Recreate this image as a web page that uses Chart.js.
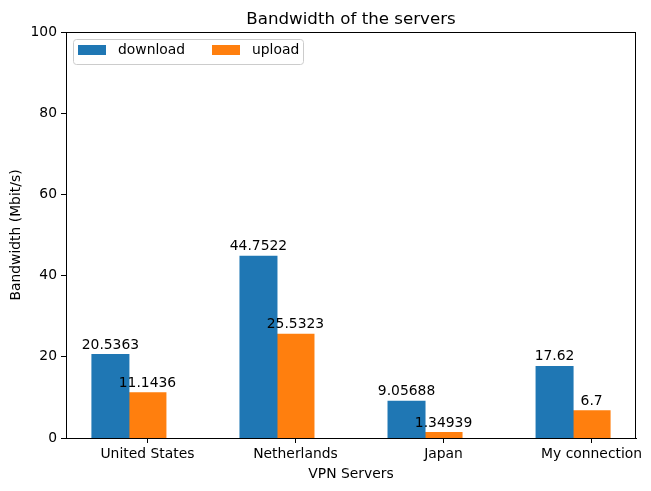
<!DOCTYPE html>
<html><head><meta charset="utf-8">
<script src="https://cdn.jsdelivr.net/npm/chart.js@4"></script>
<style>html,body{margin:0;padding:0;background:#fff}#wrap{width:651px;height:491px}</style>
</head><body><div id="wrap"><canvas id="c" width="651" height="491"></canvas></div>
<script>
const chartTitle = "Bandwidth of the servers";
const categories = ["United States", "Netherlands", "Japan", "My connection"];
const downloadValues = [20.5363, 44.7522, 9.05688, 17.62];
const uploadValues = [11.1436, 25.5323, 1.34939, 6.7];
const downloadLabels = ["20.5363", "44.7522", "9.05688", "17.62"];
const uploadLabels = ["11.1436", "25.5323", "1.34939", "6.7"];
const seriesNames = ["download", "upload"];
const yTicks = [0, 20, 40, 60, 80, 100];

const FONT = "'DejaVu Sans', sans-serif";
const FS = 13.89;
Chart.defaults.font.family = FONT;
Chart.defaults.font.size = FS;
Chart.defaults.color = '#000';

const valueLabels = {
  id: 'valueLabels',
  afterDatasetsDraw(chart) {
    const ctx = chart.ctx;
    ctx.save();
    ctx.font = FS + "px " + FONT;
    ctx.fillStyle = '#000';
    ctx.textAlign = 'center';
    ctx.textBaseline = 'alphabetic';
    chart.data.datasets.forEach((ds, di) => {
      const meta = chart.getDatasetMeta(di);
      meta.data.forEach((bar, i) => {
        ctx.fillText(ds.valueText[i], bar.x, bar.y - 6);
      });
    });
    ctx.restore();
  }
};

const frameAndLegend = {
  id: 'frameAndLegend',
  afterDraw(chart) {
    const ctx = chart.ctx;
    const a = chart.chartArea;
    ctx.save();
    ctx.strokeStyle = '#000';
    ctx.lineWidth = 1;
    ctx.strokeRect(Math.round(a.left) + 0.5, Math.round(a.top) + 0.5, Math.round(a.right - a.left) - 1, Math.round(a.bottom - a.top));
    // title centred over plot area
    ctx.fillStyle = '#000';
    ctx.font = "16.67px " + FONT;
    ctx.textAlign = 'center';
    ctx.textBaseline = 'alphabetic';
    ctx.fillText(chartTitle, (a.left + a.right) / 2, 24);
    // legend
    const lx = a.left + 7.5, ly = a.top + 7.5, lw = 230, lh = 25;
    ctx.beginPath();
    ctx.roundRect(lx, ly, lw, lh, 3);
    ctx.fillStyle = 'rgba(255,255,255,0.8)';
    ctx.fill();
    ctx.strokeStyle = '#cccccc';
    ctx.stroke();
    ctx.font = FS + "px " + FONT;
    ctx.textBaseline = 'middle';
    ctx.textAlign = 'left';
    const colX = [a.left + 12, a.left + 146];
    chart.data.datasets.forEach((ds, di) => {
      ctx.fillStyle = ds.backgroundColor;
      ctx.fillRect(colX[di], a.top + 13, 28, 10);
      ctx.fillStyle = '#000';
      ctx.fillText(ds.label, colX[di] + 40, a.top + 18.5);
    });
    ctx.restore();
  }
};

new Chart(document.getElementById('c'), {
  type: 'bar',
  data: {
    datasets: [
      { label: seriesNames[0], data: downloadValues.map((v, i) => ({x: i, y: v})), valueText: downloadLabels, backgroundColor: '#1f77b4' },
      { label: seriesNames[1], data: uploadValues.map((v, i) => ({x: i, y: v})), valueText: uploadLabels, backgroundColor: '#ff7f0e' }
    ]
  },
  options: {
    responsive: false,
    animation: false,
    categoryPercentage: 0.5,
    barPercentage: 1.0,
    inflateAmount: 0.5,
    borderWidth: 0,
    layout: { padding: { left: 0, right: 15, top: 32, bottom: 0 } },
    plugins: {
      legend: { display: false },
      tooltip: { enabled: false },
      title: { display: false }
    },
    scales: {
      x: {
        type: 'linear',
        min: -0.425,
        max: 3.425,
        offset: false,
        grid: { display: true, drawOnChartArea: false, offset: false, tickLength: 5, color: '#000' },
        border: { display: true, color: '#000' },
        afterBuildTicks: (s) => { s.ticks = categories.map((c, i) => ({ value: i + 0.125 })); },
        afterFit: (s) => { s.height = 53; },
        ticks: {
          autoSkip: false, maxRotation: 0, padding: 3, color: '#000',
          callback: (v, idx) => categories[idx]
        },
        title: { display: true, text: 'VPN Servers', color: '#000', padding: { top: 0, bottom: 8.5 } }
      },
      y: {
        min: 0, max: 100,
        grid: { display: true, drawOnChartArea: false, tickLength: 5, color: '#000' },
        border: { display: true, color: '#000' },
        afterBuildTicks: (s) => { s.ticks = yTicks.map(v => ({ value: v })); },
        afterFit: (s) => { s.width = 66; },
        ticks: { padding: 4, color: '#000', callback: (v) => String(v) },
        title: { display: true, text: 'Bandwidth (Mbit/s)', color: '#000', padding: { top: 8.5, bottom: 0 } }
      }
    }
  },
  plugins: [valueLabels, frameAndLegend]
});
</script>
</body></html>
